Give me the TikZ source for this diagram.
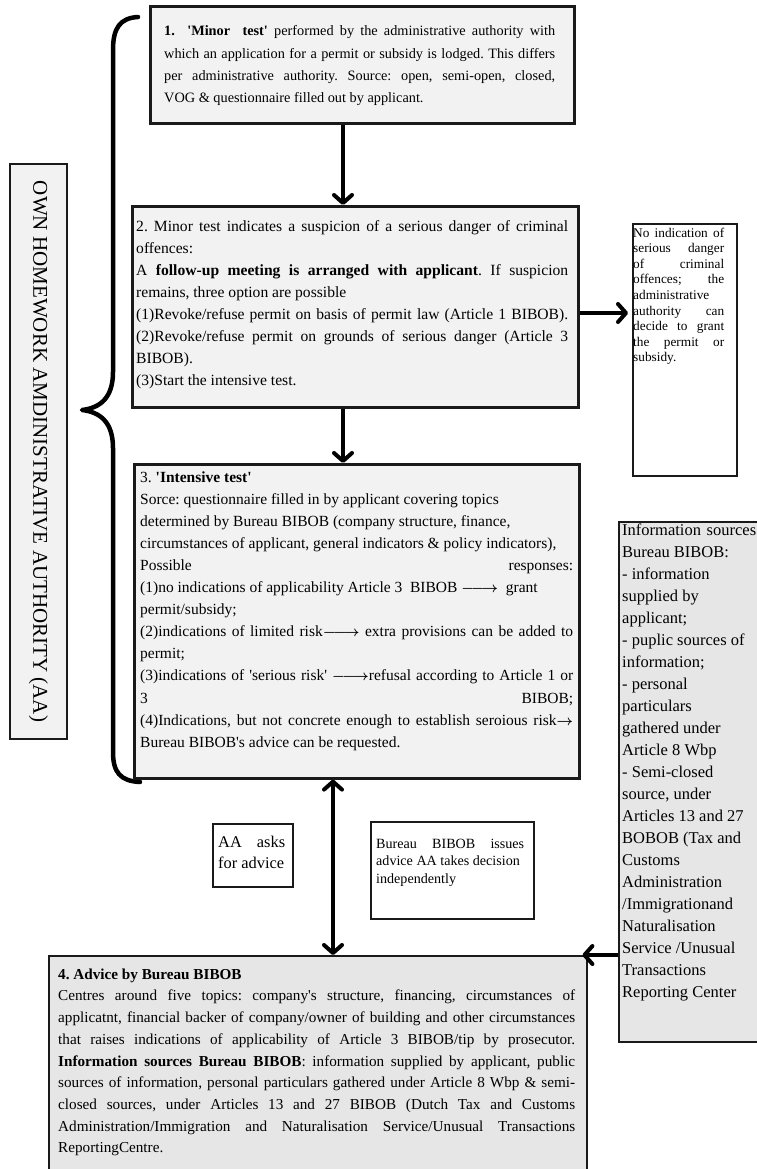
\documentclass[tikz,border=0pt]{standalone}
\usepackage{fontspec}
\setmainfont{Liberation Serif}
\usetikzlibrary{arrows.meta,calc}
\frenchspacing
\newlength\LW
\newcommand{\sq}{\textquotesingle}
\newcommand{\jl}[1]{\hbox to\LW{\vrule height.75em width0pt depth0pt #1}}
\newcommand{\rl}[1]{\hbox to\LW{\vrule height.75em width0pt depth0pt #1\hfil}}
\newcommand{\AR}{{\boldmath$\relbar\joinrel\longrightarrow$}}
\newcommand{\SAR}{{\boldmath$\rightarrow$}}
\definecolor{fillA}{HTML}{F2F2F2}
\definecolor{fillB}{HTML}{E6E6E6}
\definecolor{edge}{HTML}{1A1A1A}
\tikzset{
  boxA/.style={draw=edge, line width=2.6pt, fill=fillA, rectangle, inner sep=0pt, anchor=north west},
  boxB/.style={draw=edge, line width=2.4pt, fill=fillB, rectangle, inner sep=0pt, anchor=north west},
  boxW/.style={draw=edge, line width=2pt, fill=white, rectangle, inner sep=0pt, anchor=north west},
  txt/.style={inner sep=0pt, anchor=north west},
  barb/.tip={Straight Barb[length=8pt,width=18pt,line cap=round,line join=round]},
  arr/.style={line width=4pt, -barb},
  darr/.style={line width=4pt, barb-barb},
  bracepath/.style={line width=4.5pt, line cap=round, line join=round}
}
\begin{document}
\begin{tikzpicture}[x=1pt,y=-1pt]
\useasboundingbox (0,0) rectangle (757,1169);
\fill[white] (0,0) rectangle (757,1169);
\clip (0,0) rectangle (757,1169);

% left vertical label box
\node[boxA, line width=2pt, minimum width=57pt, minimum height=575pt] (lv) at (9,163) {};
\node[rotate=-90, inner sep=0pt, font=\fontsize{21}{24}\selectfont] (lvt) at (lv.center) {OWN HOMEWORK AMDINISTRATIVE AUTHORITY (AA)};

% brace
\draw[bracepath] (138,17) .. controls (120,18) and (113,28) .. (113,50)
  -- (113,372) .. controls (113,398) and (100,408) .. (82,410)
  .. controls (100,412) and (113,422) .. (113,448)
  -- (113,752) .. controls (113,772) and (120,781) .. (140,782);

% box 1
\node[boxA, line width=3pt, minimum width=424pt, minimum height=117pt] (b1) at (149,5) {};
\node[txt, font=\fontsize{14.3}{22.3}\selectfont] (t1) at (164,25) {\vbox{\LW=391pt
\jl{\textbf{1.\ \ \sq Minor\ \ test\sq} performed by the administrative authority with}%
\jl{which an application for a permit or subsidy is lodged. This differs}%
\jl{per administrative authority. Source: open, semi-open, closed,}%
\rl{VOG \& questionnaire filled out by applicant.}}};

% box 2
\node[boxA, minimum width=446pt, minimum height=201pt] (b2) at (131,205) {};
\node[txt, font=\fontsize{15.6}{22}\selectfont] (t2) at (136,219.3) {\vbox{\LW=432pt
\jl{2. Minor test indicates a suspicion of a serious danger of criminal}%
\rl{offences:}%
\jl{A \textbf{follow-up meeting is arranged with applicant}. If suspicion}%
\rl{remains, three option are possible}%
\jl{(1)Revoke/refuse permit on basis of permit law (Article 1 BIBOB).}%
\jl{(2)Revoke/refuse permit on grounds of serious danger (Article 3}%
\rl{BIBOB).}%
\rl{(3)Start the intensive test.}}};

% no indication box
\node[boxW, line width=2.4pt, minimum width=104pt, minimum height=252pt] (nb) at (632,223) {};
\node[txt, font=\fontsize{13.3}{15.6}\selectfont] (tnb) at (633,227) {\vbox{\LW=91pt
\jl{No indication of}%
\jl{serious danger}%
\jl{of criminal}%
\jl{offences; the}%
\rl{administrative}%
\jl{authority can}%
\jl{decide to grant}%
\jl{the permit or}%
\rl{subsidy.}}};

% box 3
\node[boxA, minimum width=445pt, minimum height=314pt] (b3) at (133,463) {};
\node[txt, font=\fontsize{15.5}{22.08}\selectfont] (t3) at (140,470.4) {\vbox{\LW=433pt
\rl{3. \textbf{\sq Intensive test\sq}}%
\rl{Sorce: questionnaire filled in by applicant covering topics}%
\rl{determined by Bureau BIBOB (company structure, finance,}%
\rl{circumstances of applicant, general indicators \& policy indicators),}%
\jl{Possible\hfill responses:}%
\rl{(1)no indications of applicability Article 3\ \ BIBOB \AR\ \ grant}%
\rl{permit/subsidy;}%
\jl{(2)indications of limited risk\AR\ extra provisions can be added to}%
\rl{permit;}%
\jl{(3)indications of \sq serious risk\sq\ \AR refusal according to Article 1 or}%
\jl{3\hfill BIBOB;}%
\jl{(4)Indications, but not concrete enough to establish seroious risk\SAR}%
\rl{Bureau BIBOB\sq s advice can be requested.}}};

% information sources box
\node[boxB, minimum width=160pt, minimum height=520pt] (ib) at (618,521) {};
\node[txt, font=\fontsize{16.5}{22}\selectfont] (tib) at (622,522.6) {\vbox{\LW=134pt
\jl{Information sources}%
\rl{Bureau BIBOB:}%
\rl{- information}%
\rl{supplied by}%
\rl{applicant;}%
\rl{- puplic sources of}%
\rl{information;}%
\rl{- personal}%
\rl{particulars}%
\rl{gathered under}%
\rl{Article 8 Wbp}%
\rl{- Semi-closed}%
\rl{source, under}%
\rl{Articles 13 and 27}%
\rl{BOBOB (Tax and}%
\rl{Customs}%
\rl{Administration}%
\rl{/Immigrationand}%
\rl{Naturalisation}%
\rl{Service /Unusual}%
\rl{Transactions}%
\rl{Reporting Center}}};

% AA asks box
\node[boxW, minimum width=80pt, minimum height=63pt] (aa) at (212,823) {};
\node[txt, font=\fontsize{16.4}{21}\selectfont] (taa) at (218,834.7) {\vbox{\LW=67pt
\jl{AA asks}%
\rl{for advice}}};

% Bureau issues box
\node[boxW, minimum width=163pt, minimum height=97pt] (bb) at (370,821) {};
\node[txt, font=\fontsize{14.1}{17.7}\selectfont] (tbb) at (376,837.4) {\vbox{\LW=148pt
\jl{Bureau BIBOB issues}%
\rl{advice AA takes decision}%
\rl{independently}}};

% box 4
\node[boxB, minimum width=538pt, minimum height=240pt] (b4) at (48,955) {};
\node[txt, font=\fontsize{15.2}{21.7}\selectfont] (t4) at (58,967.6) {\vbox{\LW=517pt
\rl{\textbf{4. Advice by Bureau BIBOB}}%
\jl{Centres around five topics: company\sq s structure, financing, circumstances of}%
\jl{applicatnt, financial backer of company/owner of building and other circumstances}%
\jl{that raises indications of applicability of Article 3 BIBOB/tip by prosecutor.}%
\jl{\textbf{Information sources Bureau BIBOB}: information supplied by applicant, public}%
\jl{sources of information, personal particulars gathered under Article 8 Wbp \& semi-}%
\jl{closed sources, under Articles 13 and 27 BIBOB (Dutch Tax and Customs}%
\jl{Administration/Immigration and Naturalisation Service/Unusual Transactions}%
\rl{ReportingCentre.}}};

% connectors
\coordinate (ax) at (343,0);
\coordinate (ay) at (0,313);
\coordinate (dx) at (333,0);
\draw[arr] (ax |- b1.south) -- (ax |- b2.north);
\draw[arr] (ax |- b2.south) -- (ax |- b3.north);
\draw[arr, shorten >=4pt] (b2.east |- ay) -- (nb.west |- ay);
\draw[darr] (dx |- b3.south) -- (dx |- b4.north);
\draw[arr] (ib.west |- b4.north) -- ($(b4.north east)+(-6,0)$);
\end{tikzpicture}
\end{document}
